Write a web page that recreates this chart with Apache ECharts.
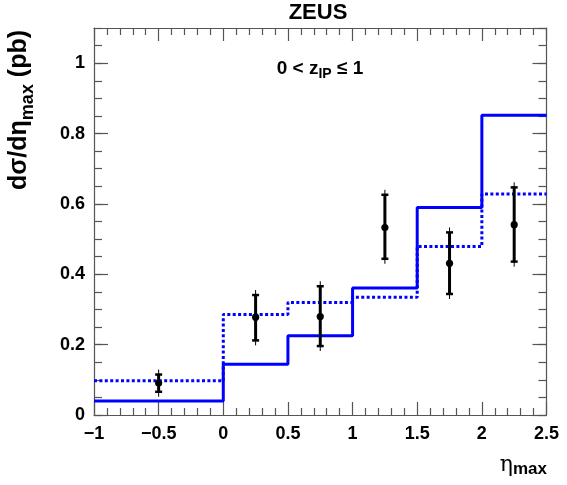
<!DOCTYPE html>
<html>
<head>
<meta charset="utf-8">
<script src="https://cdn.jsdelivr.net/npm/echarts@6/dist/echarts.min.js"></script>
<style>html,body{margin:0;padding:0;background:#fff}#c{width:567px;height:485px}</style>
</head>
<body>
<div id="c"></div>
<script>
// Bin edges in eta_max
const binEdges = [-1, 0, 0.5, 1, 1.5, 2, 2.5];
// Solid blue histogram (model 1)
const solidValues = [0.040, 0.144, 0.225, 0.361, 0.590, 0.852];
// Dotted blue histogram (model 2)
const dottedValues = [0.097, 0.286, 0.320, 0.335, 0.479, 0.628];
// Data points
const pointX = [-0.5, 0.25, 0.75, 1.25, 1.75, 2.25];
const pointY = [0.091, 0.278, 0.280, 0.533, 0.431, 0.541];
const pointLow = [0.066, 0.212, 0.196, 0.444, 0.344, 0.436];
const pointHigh = [0.115, 0.341, 0.366, 0.626, 0.519, 0.647];
// Tick labels
const yTickLabels = [0, 0.2, 0.4, 0.6, 0.8, 1];
const xTickLabels = [-1, -0.5, 0, 0.5, 1, 1.5, 2, 2.5];

function stepData(vals) {
  const d = vals.map((v, i) => [binEdges[i], v]);
  d.push([binEdges[binEdges.length - 1], vals[vals.length - 1]]);
  return d;
}

const axisColor = '#555';
const labelFont = { fontFamily: 'Liberation Sans', fontWeight: 'bold', fontSize: 18, color: '#000' };

function fmtNum(v) {
  return String(v).replace('-', '\u2212');
}

const chart = echarts.init(document.getElementById('c'), null, { renderer: 'canvas' });

function lineSt() { return { color: axisColor, width: 1.2 }; }

function xAxisDef(pos, showLabel) {
  return {
    type: 'value', min: -1, max: 2.5, interval: 0.5, position: pos,
    axisLine: { show: true, onZero: false, lineStyle: lineSt() },
    axisTick: { show: true, inside: true, length: 13, lineStyle: lineSt() },
    minorTick: { show: true, splitNumber: 5, length: 7, lineStyle: lineSt() },
    axisLabel: showLabel ? Object.assign({ margin: 10, formatter: function (v) {
      return xTickLabels.some(t => Math.abs(t - v) < 1e-9) ? fmtNum(v) : '';
    } }, labelFont) : { show: false },
    splitLine: { show: false }
  };
}

function yAxisDef(pos, major, showLabel) {
  return {
    type: 'value', min: 0, max: 1.1, interval: major ? 0.2 : 0.05, position: pos,
    axisLine: { show: major, onZero: false, lineStyle: lineSt() },
    axisTick: { show: true, inside: true, length: major ? 14 : 8, lineStyle: lineSt() },
    axisLabel: showLabel ? Object.assign({ margin: 9, showMaxLabel: false, formatter: function (v) {
      return yTickLabels.some(t => Math.abs(t - v) < 1e-9) ? String(Math.round(v * 10) / 10) : '';
    } }, labelFont) : { show: false },
    splitLine: { show: false }
  };
}

const option = {
  animation: false,
  backgroundColor: '#fff',
  grid: { left: 94, right: 20.5, top: 28, bottom: 70 },
  xAxis: [xAxisDef('bottom', true), xAxisDef('top', false)],
  yAxis: [yAxisDef('left', true, true), yAxisDef('left', false, false), yAxisDef('right', true, false), yAxisDef('right', false, false)],
  series: [
    {
      type: 'line', name: 'solid', xAxisIndex: 0, yAxisIndex: 0,
      step: 'end', data: stepData(solidValues), showSymbol: false, symbol: 'none',
      lineStyle: { color: '#0000ff', width: 3, type: 'solid' }, z: 3
    },
    {
      type: 'line', name: 'dotted', xAxisIndex: 0, yAxisIndex: 0,
      step: 'end', data: stepData(dottedValues), showSymbol: false, symbol: 'none',
      lineStyle: { color: '#0000ff', width: 3, type: [3, 2.4], cap: 'butt' }, z: 2
    },
    {
      type: 'custom', name: 'data', xAxisIndex: 0, yAxisIndex: 0, z: 5,
      data: pointX.map((x, i) => [x, pointY[i], pointLow[i], pointHigh[i]]),
      renderItem: function (params, api) {
        const c = api.coord([api.value(0), api.value(1)]);
        const lo = api.coord([api.value(0), api.value(2)]);
        const hi = api.coord([api.value(0), api.value(3)]);
        const x = c[0];
        return {
          type: 'group',
          children: [
            { type: 'line', shape: { x1: x, y1: hi[1] - 5, x2: x, y2: lo[1] + 5 }, style: { stroke: '#000', lineWidth: 1 } },
            { type: 'line', shape: { x1: x, y1: hi[1], x2: x, y2: lo[1] }, style: { stroke: '#000', lineWidth: 3 } },
            { type: 'line', shape: { x1: x - 3.5, y1: hi[1], x2: x + 3.5, y2: hi[1] }, style: { stroke: '#000', lineWidth: 2.5 } },
            { type: 'line', shape: { x1: x - 3.5, y1: lo[1], x2: x + 3.5, y2: lo[1] }, style: { stroke: '#000', lineWidth: 2.5 } },
            { type: 'circle', shape: { cx: x, cy: c[1], r: 3.6 }, style: { fill: '#000' } }
          ]
        };
      }
    }
  ],
  graphic: [
    {
      type: 'text', x: 318, y: 13,
      style: { text: 'ZEUS', fontFamily: 'Liberation Sans', fontWeight: 'bold', fontSize: 22, fill: '#000', textAlign: 'center', textVerticalAlign: 'middle' }
    },
    {
      type: 'text', x: 320, y: 70,
      style: {
        text: '{a|0 < z}{s|IP}{a| \u2264 1}',
        textAlign: 'center', textVerticalAlign: 'middle',
        rich: {
          a: { fontFamily: 'Liberation Sans', fontWeight: 'bold', fontSize: 19, fill: '#000', lineHeight: 22, verticalAlign: 'top' },
          s: { fontFamily: 'Liberation Sans', fontWeight: 'bold', fontSize: 14, fill: '#000', lineHeight: 16, verticalAlign: 'bottom' }
        }
      }
    },
    {
      type: 'text', x: 22, y: 190, rotation: Math.PI / 2,
      style: {
        text: '{a|d\u03c3/d\u03b7}{s|max}{a| (pb)}',
        textAlign: 'left', textVerticalAlign: 'middle',
        rich: {
          a: { fontFamily: 'Liberation Sans', fontWeight: 'bold', fontSize: 25, fill: '#000', lineHeight: 31, verticalAlign: 'top' },
          s: { fontFamily: 'Liberation Sans', fontWeight: 'bold', fontSize: 18, fill: '#000', lineHeight: 18, verticalAlign: 'bottom' }
        }
      }
    },
    {
      type: 'text', x: 547, y: 466,
      style: {
        text: '{e|\u03b7}{s|max}',
        textAlign: 'right', textVerticalAlign: 'middle',
        rich: {
          e: { fontFamily: 'DejaVu Serif', fontSize: 22, fill: '#000', lineHeight: 24, verticalAlign: 'top' },
          s: { fontFamily: 'Liberation Sans', fontWeight: 'bold', fontSize: 17, fill: '#000', lineHeight: 18, verticalAlign: 'bottom' }
        }
      }
    }
  ]
};

chart.setOption(option);
</script>
</body>
</html>
